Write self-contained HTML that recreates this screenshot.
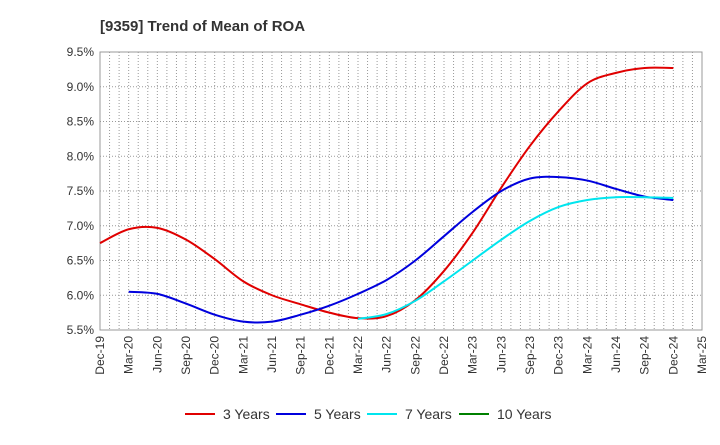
<!DOCTYPE html>
<html><head><meta charset="utf-8"><style>
body{margin:0;background:#fff;font-family:"Liberation Sans",sans-serif}
svg text{font-family:"Liberation Sans",sans-serif}
</style></head><body>
<svg id="chart" width="720" height="440" xmlns="http://www.w3.org/2000/svg">
<text x="100" y="31" font-size="15" font-weight="bold" fill="#333">[9359]  Trend of Mean of ROA</text>
<g id="grid"></g><g id="axes"></g><g id="series"></g><g id="legend"></g>
</svg>
<script>
const xLabels=["Dec-19","Mar-20","Jun-20","Sep-20","Dec-20","Mar-21","Jun-21","Sep-21","Dec-21","Mar-22","Jun-22","Sep-22","Dec-22","Mar-23","Jun-23","Sep-23","Dec-23","Mar-24","Jun-24","Sep-24","Dec-24","Mar-25"];
const yTicks=[5.5,6.0,6.5,7.0,7.5,8.0,8.5,9.0,9.5];
const s3=[6.75,6.95,6.97,6.8,6.52,6.2,6.0,5.87,5.75,5.67,5.7,5.93,6.35,6.9,7.55,8.15,8.65,9.05,9.2,9.27,9.27];
const s5=[6.05,6.02,5.88,5.72,5.62,5.62,5.72,5.85,6.02,6.22,6.5,6.85,7.2,7.5,7.68,7.7,7.65,7.53,7.42,7.37];
const s7=[5.66,5.73,5.92,6.2,6.5,6.8,7.07,7.27,7.37,7.41,7.41,7.4];
const s10=[];
const X0=100,X1=702,Y0=330,Y1=52,ns="http://www.w3.org/2000/svg";
const x=i=>X0+(X1-X0)*i/(xLabels.length-1);
const y=v=>Y0-(v-5.5)/(9.5-5.5)*(Y0-Y1);
function mk(t,a,p){const e=document.createElementNS(ns,t);for(const k in a)e.setAttribute(k,a[k]);p.appendChild(e);return e;}
const grid=document.getElementById('grid'),axes=document.getElementById('axes'),ser=document.getElementById('series'),leg=document.getElementById('legend');
mk('rect',{x:X0,y:Y1,width:X1-X0,height:Y0-Y1,fill:'#fff',stroke:'#999'},grid);
for(let m=1;m<(xLabels.length-1)*3;m++){const xx=X0+(X1-X0)*m/((xLabels.length-1)*3);
const l=mk('line',{x1:xx,x2:xx,y1:Y1,y2:Y0,stroke:'#999','stroke-dasharray':'1,2','stroke-width':1},grid);
}
yTicks.forEach(v=>{const l=mk('line',{x1:X0,x2:X1,y1:y(v),y2:y(v),stroke:'#999','stroke-dasharray':'1,2'},grid);

const t=mk('text',{x:X0-6,y:y(v)+4,'text-anchor':'end','font-size':12,fill:'#333'},axes);t.textContent=v.toFixed(1)+'%';
});
xLabels.forEach((lb,i)=>{const t=mk('text',{x:0,y:0,'text-anchor':'end','font-size':12,fill:'#333',transform:`translate(${x(i)+4},${Y0+6}) rotate(-90)`},axes);t.textContent=lb;
});
function path(vals,off){const p=vals.map((v,i)=>[x(i+off),y(v)]);if(!p.length)return '';let d=`M${p[0][0]},${p[0][1]}`;
for(let i=0;i<p.length-1;i++){const a=p[i-1]||p[i],b=p[i],c=p[i+1],e=p[i+2]||c;
d+=` C${b[0]+(c[0]-a[0])/6},${b[1]+(c[1]-a[1])/6} ${c[0]-(e[0]-b[0])/6},${c[1]-(e[1]-b[1])/6} ${c[0]},${c[1]}`;}return d;}
const defs=[[s3,0,'#e00000','3 Years','series-3-years'],[s5,1,'#0000dd','5 Years','series-5-years'],[s7,9,'#00e5ee','7 Years','series-7-years'],[s10,21,'#008000','10 Years','series-10-years']];
const lx=[185,276,367,459];
defs.forEach((d,k)=>{if(d[0].length){const p=mk('path',{d:path(d[0],d[1]),fill:'none',stroke:d[2],'stroke-width':2},ser);
}
const g=mk('g',{},leg);
mk('line',{x1:lx[k],x2:lx[k]+30,y1:414,y2:414,stroke:d[2],'stroke-width':2},g);
const t=mk('text',{x:lx[k]+38,y:419,'font-size':14,fill:'#333'},g);t.textContent=d[3];});
</script>
</body></html>
